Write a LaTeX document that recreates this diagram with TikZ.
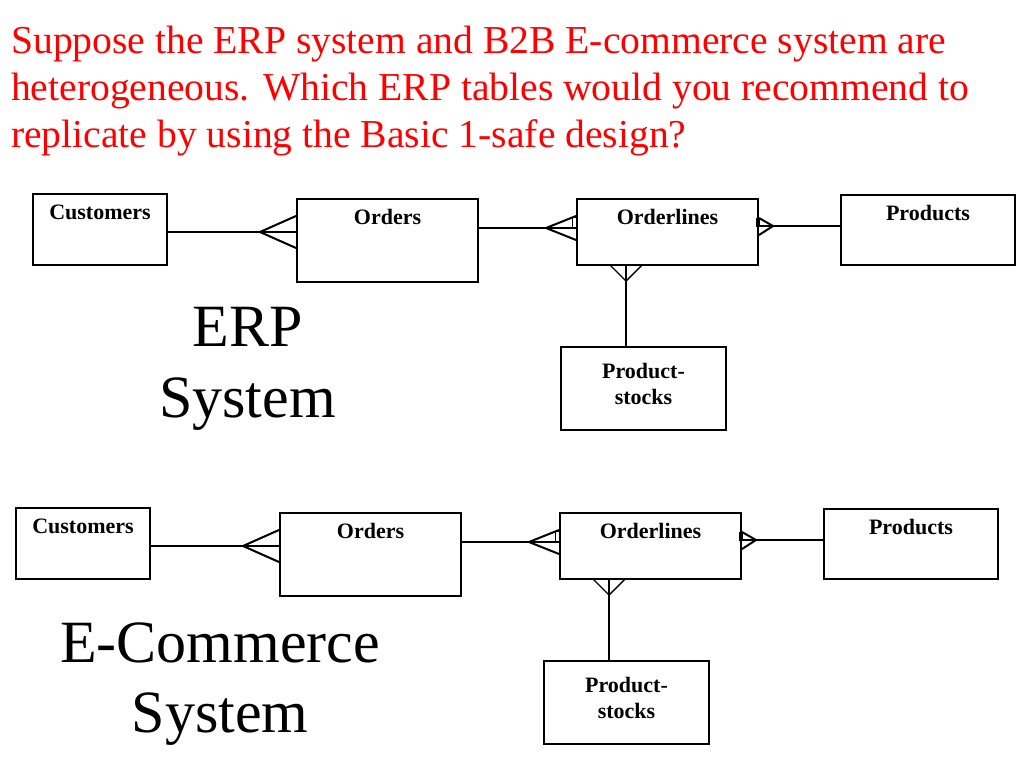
\documentclass[tikz,border=0pt]{standalone}
\usepackage{fontspec}
\setmainfont{Liberation Serif}
\begin{document}
\begin{tikzpicture}[x=1pt,y=-1pt,
  box/.style={draw=black, line width=2pt, inner sep=0pt, fill=white},
  lbl/.style={font=\bfseries\fontsize{22}{26}\selectfont, inner sep=0pt, anchor=base, align=center},
  conn/.style={draw=black, line width=2pt},
  vconn/.style={draw=black, line width=1.4pt},
  tick/.style={draw=black, line width=1pt},
  title/.style={font=\fontsize{39.6}{47}\selectfont, text=red, inner sep=0pt, anchor=base west},
  big/.style={font=\fontsize{60}{70}\selectfont, inner sep=0pt, anchor=base}]
\fill[white] (0,0) rectangle (1024,768);
\useasboundingbox (0,0) rectangle (1024,768);

\newcommand\erdia[1]{%
  \node[box, minimum width=134, minimum height=71] (#1cu) at (100,229.5) {};
  \node[box, minimum width=181, minimum height=83] (#1or) at (387.5,240.5) {};
  \node[box, minimum width=181, minimum height=66] (#1ol) at (667.5,232) {};
  \node[box, minimum width=174, minimum height=70] (#1pr) at (928,230) {};
  \node[box, minimum width=165, minimum height=83] (#1ps) at (643.5,388.5) {};
  \node[lbl] (#1cut) at ([yshift=-26pt]#1cu.north) {Customers};
  \node[lbl] (#1ort) at ([yshift=-26pt]#1or.north) {Orders};
  \node[lbl] (#1olt) at ([yshift=-26pt]#1ol.north) {Orderlines};
  \node[lbl] (#1prt) at ([yshift=-26pt]#1pr.north) {Products};
  \node[lbl] (#1pst) at ([yshift=-58pt]#1ps.north) {Product-\\stocks};
  % Customers -- Orders
  \coordinate (#1ap1) at (260,232);
  \draw[conn] (#1cu.east |- #1ap1) -- (#1or.west |- #1ap1);
  \draw[conn] (#1or.west |- 0,216) -- (#1ap1) -- (#1or.west |- 0,248);
  % Orders -- Orderlines
  \coordinate (#1ap2) at (546,228);
  \draw[conn] (#1or.east |- #1ap2) -- (#1ol.west |- #1ap2);
  \draw[conn] (#1ol.west |- 0,216) -- (#1ap2) -- (#1ol.west |- 0,240);
  \draw[tick] ([xshift=-4pt]#1ol.west |- 0,217) rectangle (#1ol.west |- 0,227);
  % Orderlines -- Products
  \coordinate (#1ap3) at (773,226);
  \draw[conn] (#1ol.east |- #1ap3) -- (#1pr.west |- #1ap3);
  \draw[conn] (#1ol.east |- 0,218) -- (#1ap3) -- (#1ol.east |- 0,235);
  \draw[tick] ([xshift=-3pt]#1ol.east |- 0,218) rectangle (#1ol.east |- 0,226);
  % Orderlines -- Product-stocks
  \coordinate (#1ap4) at (626,281);
  \draw[vconn] (#1ol.south -| #1ap4) -- (#1ps.north -| #1ap4);
  \draw[vconn] (610,265) -- (#1ap4) -- (642,265);
}

\node[title] (t1) at (11,53) {Suppose the ERP system and B2B E-commerce system are};
\node[title] (t2) at (11,100) {heterogeneous. Which ERP tables would you recommend to};
\node[title] (t3) at (11,147) {replicate by using the Basic 1-safe design?};

\begin{scope}
  \erdia{u}
\end{scope}
\begin{scope}[shift={(-17,314)}]
  \erdia{d}
\end{scope}

\node[big] (erp) at (247.5,346) {ERP};
\node[big] (erps) at (247.5,417) {System};
\node[big] (ec) at (220,662) {E-Commerce};
\node[big] (ecs) at (220,732) {System};
\end{tikzpicture}
\end{document}
